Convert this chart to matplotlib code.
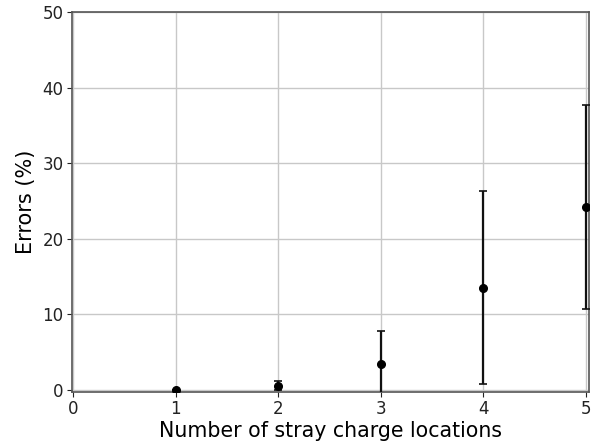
import matplotlib
matplotlib.use("Agg")
import matplotlib.pyplot as plt

locations = [1, 2, 3, 4, 5]
errors_mean = [0.0, 0.5, 3.4, 13.5, 24.2]
errors_std = [0.0, 0.6, 4.4, 12.8, 13.5]

fig = plt.figure(figsize=(6.03, 4.45), dpi=100)
ax = fig.add_axes([72/603, 1 - 392/445, (589-72)/603, (392-12)/445])

ax.errorbar(locations, errors_mean, yerr=errors_std, fmt='o', color='black',
            ecolor='#111111', elinewidth=1.6, capsize=3, capthick=1.2,
            markersize=5.5, zorder=3)

ax.set_xlim(-0.01, 5.03)
ax.set_ylim(-0.3, 50)
ax.set_xticks([0, 1, 2, 3, 4, 5])
ax.set_yticks([0, 10, 20, 30, 40, 50])
ax.grid(True, color='#c8c8c8', linewidth=1.0)
ax.set_axisbelow(True)
for s in ax.spines.values():
    s.set_color('#555555')
    s.set_linewidth(1.2)
ax.tick_params(labelsize=12, colors='#222222', length=3.5, pad=2.5)
ax.set_xlabel('Number of stray charge locations', fontsize=14.8, labelpad=2)
ax.set_ylabel('Errors (%)', fontsize=15, labelpad=5)

fig.savefig('out.png', dpi=100)
